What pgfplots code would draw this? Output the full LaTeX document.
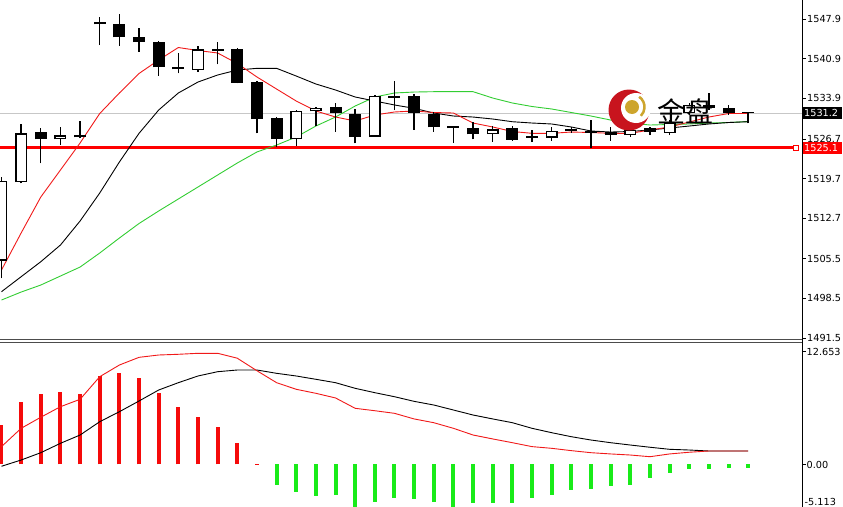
\documentclass[border=0pt]{standalone}
\usepackage{fontspec}
\setmainfont{DejaVu Sans}
\newfontfamily\cjk{Noto Sans CJK SC}
\usepackage{pgfplots}
\usepackage{pgfplotstable}
\pgfplotsset{compat=1.18}
\definecolor{mared}{RGB}{240,25,25}
\definecolor{magreen}{RGB}{50,205,50}
\definecolor{hgreen}{RGB}{25,235,25}
\definecolor{hred}{RGB}{245,10,10}
\definecolor{logored}{RGB}{200,20,30}
\definecolor{gold}{RGB}{205,165,45}
\newcommand\tickfont{\fontsize{9.7}{11}\selectfont}

% bearish (black) candles: index open high low close
\pgfplotstableread{
i o h l c
2 1527.92 1528.68 1522.39 1526.63
4 1527.39 1529.92 1526.81 1526.98
5 1547.30 1548.31 1543.30 1546.95
6 1546.96 1548.78 1543.13 1544.66
7 1544.77 1546.26 1542.12 1543.83
8 1543.89 1544.06 1537.88 1539.36
9 1539.47 1541.94 1538.30 1539.01
11 1542.60 1543.89 1539.89 1542.30
12 1542.54 1542.72 1536.53 1536.64
13 1536.81 1536.94 1527.69 1530.17
14 1530.45 1530.52 1525.22 1526.63
17 1532.39 1533.10 1527.97 1531.23
18 1531.05 1531.93 1525.92 1527.09
20 1534.33 1536.94 1531.81 1534.00
21 1534.29 1534.64 1528.28 1531.23
22 1531.10 1531.51 1527.97 1528.75
23 1528.92 1528.95 1526.03 1528.60
24 1528.58 1529.74 1526.63 1527.52
26 1528.58 1528.98 1526.38 1526.51
27 1527.25 1528.28 1526.21 1526.93
29 1528.40 1528.86 1527.80 1528.10
30 1528.10 1530.04 1525.04 1527.80
31 1527.97 1528.86 1526.38 1527.39
33 1528.68 1528.86 1527.39 1527.97
36 1532.70 1534.76 1531.81 1532.17
37 1532.11 1532.70 1530.93 1531.23
38 1531.40 1531.51 1529.46 1531.24
}\bear

% bullish (white) candles
\pgfplotstableread{
i o h l c
0 1505.17 1520.02 1502.06 1519.31
1 1519.08 1529.28 1518.85 1527.69
3 1526.63 1528.86 1525.62 1527.34
10 1538.88 1543.13 1538.58 1542.54
15 1526.63 1531.81 1525.45 1531.69
16 1531.58 1532.39 1528.98 1532.22
19 1527.09 1534.46 1527.09 1534.34
25 1527.57 1528.98 1526.21 1528.40
28 1526.91 1528.75 1526.38 1528.10
32 1527.39 1528.60 1527.09 1528.28
34 1527.75 1530.04 1527.39 1529.51
35 1531.28 1533.00 1530.90 1532.70
}\bull

% moving averages: red, black, green
\pgfplotstableread{
i r k g
0 1503.52 1499.69 1498.22
1 1510.07 1502.34 1499.63
2 1516.43 1504.99 1500.87
3 1521.20 1507.94 1502.46
4 1525.98 1512.19 1504.05
5 1531.19 1517.14 1506.53
6 1534.82 1522.62 1509.18
7 1538.27 1527.69 1511.75
8 1540.65 1531.81 1513.96
9 1542.86 1534.82 1516.08
10 1542.33 1536.76 1518.20
11 1541.89 1538.00 1520.32
12 1540.03 1538.88 1522.44
13 1537.65 1539.18 1524.39
14 1535.52 1539.18 1525.62
15 1533.40 1537.82 1527.04
16 1531.64 1536.41 1528.98
17 1530.57 1535.35 1530.57
18 1529.87 1534.11 1532.52
19 1530.93 1533.40 1534.11
20 1531.46 1532.70 1534.82
21 1531.64 1532.11 1534.99
22 1531.37 1531.28 1535.05
23 1531.28 1530.75 1535.05
24 1529.51 1530.57 1535.05
25 1528.81 1530.22 1533.93
26 1528.01 1529.74 1533.05
27 1527.69 1529.51 1532.43
28 1527.69 1529.34 1531.99
29 1527.92 1528.81 1531.37
30 1527.83 1528.10 1530.75
31 1527.69 1527.92 1530.04
32 1527.69 1528.01 1529.51
33 1528.28 1528.28 1529.16
34 1528.81 1528.63 1529.25
35 1529.69 1528.98 1529.34
36 1530.57 1529.34 1529.51
37 1531.19 1529.60 1529.60
38 1531.19 1529.74 1529.78
}\ma

% MACD histogram, DIF (red), DEA (black)
\pgfplotstableread{
i h dif dea
0 4.39 2.00 -0.20
1 6.96 4.05 0.50
2 7.90 5.29 1.32
3 8.15 6.47 2.37
4 7.90 7.30 3.30
5 9.91 9.83 4.79
6 10.21 11.14 5.91
7 9.65 12.00 7.11
8 8.04 12.26 8.34
9 6.40 12.34 9.16
10 5.35 12.45 9.91
11 4.23 12.45 10.39
12 2.37 11.90 10.58
13 0.10 10.50 10.58
14 -2.30 9.16 10.21
15 -3.10 8.42 9.91
16 -3.50 7.97 9.54
17 -3.45 7.45 9.16
18 -4.90 6.29 8.53
19 -4.20 6.02 8.04
20 -3.80 5.73 7.59
21 -3.85 5.10 7.07
22 -4.20 4.68 6.66
23 -4.90 4.05 6.10
24 -4.35 3.30 5.54
25 -4.30 2.86 5.10
26 -4.30 2.44 4.68
27 -3.70 2.00 4.05
28 -3.40 1.81 3.56
29 -2.90 1.55 3.11
30 -2.80 1.32 2.74
31 -2.45 1.18 2.44
32 -2.30 1.06 2.18
33 -1.50 0.87 1.93
34 -0.90 1.18 1.70
35 -0.45 1.37 1.62
36 -0.45 1.51 1.51
37 -0.40 1.51 1.51
38 -0.40 1.51 1.51
}\macd

\begin{document}
\begin{tikzpicture}
\useasboundingbox (0pt,0pt) rectangle (843pt,-506pt);
% ---------------- main price window ----------------
\begin{axis}[
  at={(0pt,0pt)}, anchor=north west, scale only axis,
  width=802pt, height=339.5pt,
  xmin=-0.076, xmax=40.74, ymin=1491.24, ymax=1551.26,
  axis x line=none, axis y line=right,
  axis line style={-, black, line width=1pt},
  ytick={1547.9,1540.9,1533.9,1526.7,1519.7,1512.7,1505.5,1498.5,1491.5},
  yticklabels={1547.9,1540.9,1533.9,1526.7,1519.7,1512.7,1505.5,1498.5,1491.5},
  tick align=outside, major tick length=3.5pt,
  tick style={black, line width=0.8pt},
  yticklabel style={font=\tickfont, inner sep=1pt, xshift=0.5pt},
  clip mode=individual,
]
% bid line and horizontal level
\addplot[forget plot, black!22, line width=0.9pt] coordinates {(-0.076,1531.24) (40.74,1531.24)};
\addplot[forget plot, red, line width=2.6pt] coordinates {(-0.076,1525.14) (40.38,1525.14)};
% moving averages
\addplot[forget plot, magreen, line width=0.9pt] table[x=i, y=g] {\ma};
\addplot[forget plot, black, line width=0.9pt] table[x=i, y=k] {\ma};
\addplot[forget plot, mared, line width=0.9pt] table[x=i, y=r] {\ma};
% wicks
\addplot[forget plot, draw=none, mark=none, error bars/.cd, y dir=plus, y explicit, error mark=none,
  error bar style={draw=black, solid, line width=1.4pt}]
  table[x=i, y=l, y error plus expr={\thisrow{h}-\thisrow{l}}] {\bear};
\addplot[forget plot, draw=none, mark=none, error bars/.cd, y dir=plus, y explicit, error mark=none,
  error bar style={draw=black, solid, line width=1.4pt}]
  table[x=i, y=l, y error plus expr={\thisrow{h}-\thisrow{l}}] {\bull};
% bodies
\addplot[forget plot, draw=none, mark=none, error bars/.cd, y dir=plus, y explicit, error mark=none,
  error bar style={draw=black, solid, line width=12pt}]
  table[x=i, y=c, y error plus expr={\thisrow{o}-\thisrow{c}}] {\bear};
\addplot[forget plot, draw=none, mark=none, error bars/.cd, y dir=plus, y explicit, error mark=none,
  error bar style={draw=black, solid, line width=12pt}]
  table[x=i, y=o, y error plus expr={\thisrow{c}-\thisrow{o}}] {\bull};
\addplot[forget plot, draw=none, mark=none, error bars/.cd, y dir=plus, y explicit, error mark=none,
  error bar style={draw=white, solid, line width=9.2pt}]
  table[x=i, y expr={\thisrow{o}+0.24}, y error plus expr={max(\thisrow{c}-\thisrow{o}-0.48,0)}] {\bull};
% end marker of the level line
\addplot[forget plot, only marks, mark=square*, mark size=2.6pt, red,
  mark options={fill=white, line width=1.2pt}] coordinates {(40.43,1525.14)};
% price tags
\node[fill=black, text=white, anchor=west, inner sep=1.5pt, minimum height=12pt,
  text width=36pt, font=\tickfont, xshift=0.5pt]
  at (axis cs:40.74,1531.24) {1531.2};
\node[fill=red, text=white, anchor=west, inner sep=1.5pt, minimum height=12pt,
  text width=36pt, font=\tickfont, xshift=0.5pt]
  at (axis cs:40.74,1525.14) {1525.1};
\end{axis}

% ---------------- MACD window ----------------
\begin{axis}[
  at={(0pt,-342.5pt)}, anchor=north west, scale only axis,
  width=802pt, height=173.5pt,
  xmin=-0.076, xmax=40.74, ymin=-5.77, ymax=13.66,
  axis x line=none, axis y line=right,
  axis line style={-, black, line width=1pt},
  ytick={12.653,0},
  yticklabels={12.653,0.00},
  tick align=outside, major tick length=3.5pt,
  tick style={black, line width=0.8pt},
  yticklabel style={font=\tickfont, inner sep=1pt},
  clip mode=individual,
]
\addplot[forget plot, ycomb, hred, line width=4pt, mark=none]
  table[x=i, y=h, restrict expr to domain={\thisrow{h}}{0:100}] {\macd};
\addplot[forget plot, ycomb, hgreen, line width=4pt, mark=none]
  table[x=i, y=h, restrict expr to domain={\thisrow{h}}{-100:0}] {\macd};
\addplot[forget plot, black, line width=0.9pt] table[x=i, y=dea] {\macd};
\addplot[forget plot, mared, line width=0.9pt] table[x=i, y=dif] {\macd};
\end{axis}

% bottom scale label of the MACD window (its tick lies just below the visible area)
\node[font=\tickfont, anchor=south west, inner sep=0.5pt] at (804pt,-506pt) {-5.113};

% window separator
\draw[black!70, line width=0.8pt] (0pt,-339.5pt) -- (802pt,-339.5pt);
\draw[black!70, line width=0.8pt] (0pt,-342.5pt) -- (802pt,-342.5pt);
\draw[black, line width=1pt] (802pt,-339pt) -- (802pt,-343pt);

% watermark logo
\fill[logored] (629pt,-110pt) circle (20.5pt);
\fill[white] (636pt,-108pt) circle (15pt);
\fill[gold] (632pt,-107pt) circle (7pt);
\draw[gold, line width=2.5pt] (632pt,-107pt) ++(55:12.5pt) arc (55:-45:12.5pt);
\node[font=\cjk\fontsize{28}{28}\selectfont, text=black, anchor=center] at (685pt,-111pt) {金盘};
\end{tikzpicture}
\end{document}
